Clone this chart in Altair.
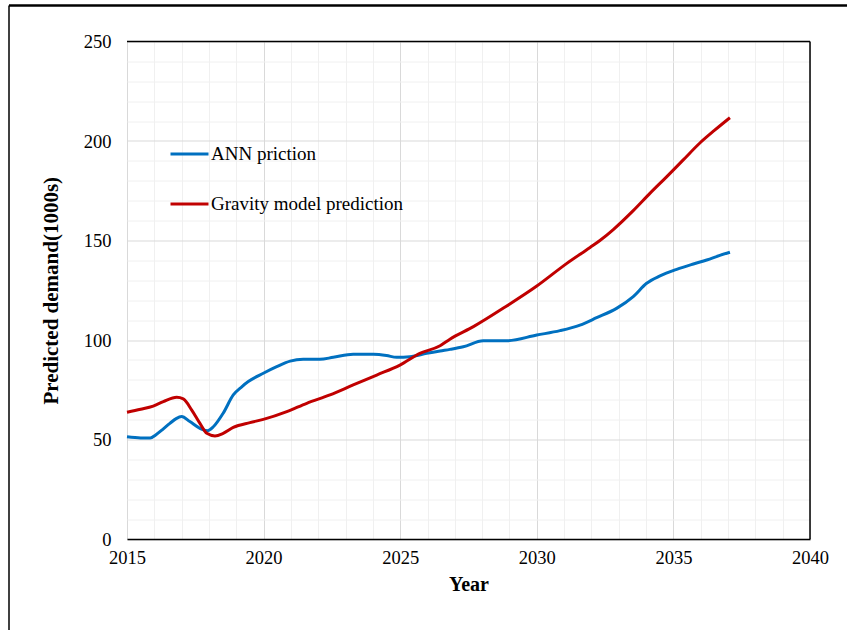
import altair as alt
import pandas as pd

ann_years = [2015.0, 2015.5, 2015.85, 2016.05, 2016.3, 2016.57, 2016.8, 2017.0, 2017.3, 2017.67,
             2017.94, 2018.16, 2018.52, 2018.89, 2019.2, 2019.44, 2019.99, 2020.48, 2020.97, 2021.45,
             2022.06, 2022.55, 2023.28, 2024.02, 2024.5, 2024.87, 2025.36, 2025.97, 2026.46, 2026.82,
             2027.31, 2028.04, 2028.9, 2030.0, 2030.85, 2031.58, 2032.19, 2032.92, 2033.53, 2034.02,
             2034.51, 2035.12, 2035.73, 2036.22, 2036.7, 2037.07]
ann_vals = [51.4, 50.8, 50.7, 52.3, 55.0, 58.1, 60.5, 61.5, 59.0, 55.6,
            54.4, 56.4, 63.2, 72.4, 76.5, 79.1, 83.3, 86.6, 89.4, 90.3,
            90.3, 91.3, 92.8, 92.8, 92.2, 91.3, 91.6, 93.3, 94.5, 95.3,
            96.6, 99.6, 99.6, 102.5, 104.7, 107.5, 111.2, 115.9, 121.8, 128.5,
            132.2, 135.5, 138.2, 140.2, 142.5, 144.1]

grav_years = [2015.0, 2015.5, 2015.96, 2016.33, 2016.82, 2017.06, 2017.37, 2017.67, 2017.92, 2018.22,
              2018.52, 2018.89, 2019.5, 2019.99, 2020.85, 2021.58, 2022.43, 2023.28, 2024.14, 2024.99,
              2025.72, 2026.46, 2026.82, 2027.68, 2028.9, 2030.0, 2031.1, 2031.95, 2032.31, 2032.8,
              2033.53, 2034.14, 2034.75, 2035.36, 2035.97, 2036.5, 2037.07]
grav_vals = [63.7, 65.2, 66.8, 69.0, 71.2, 70.4, 64.8, 58.1, 53.1, 51.8,
             53.1, 56.1, 58.5, 60.1, 64.0, 68.2, 72.4, 77.4, 82.4, 87.4,
             93.3, 97.1, 100.4, 106.7, 117.1, 127.1, 138.5, 146.5, 150.0, 155.5,
             165.0, 173.7, 182.0, 190.5, 199.0, 205.3, 211.7]

series_names = ["ANN priction", "Gravity model prediction"]
series_colors = ["#0070C0", "#C00000"]

x_ticks = list(range(2015, 2041))
y_ticks = list(range(0, 251, 10))

df = pd.concat([
    pd.DataFrame({"Year": ann_years, "Value": ann_vals, "Series": series_names[0]}),
    pd.DataFrame({"Year": grav_years, "Value": grav_vals, "Series": series_names[1]}),
])

W, H = 683, 497.5
FONT = "Liberation Serif"

lines = alt.Chart(df).mark_line(strokeWidth=3, interpolate="monotone").encode(
    x=alt.X("Year:Q", scale=alt.Scale(domain=[2015, 2040], nice=False, zero=False),
            axis=alt.Axis(values=x_ticks, format="d",
                          labelExpr="datum.value % 5 === 0 ? datum.label : ''",
                          gridColor=alt.condition("datum.value % 5 === 0", alt.value("#D9D9D9"), alt.value("#F0F0F0")),
                          ticks=False, domainColor="black", domainWidth=1.5,
                          labelFont=FONT, labelFontSize=18.5, labelColor="black",
                          labelFlush=False, labelOverlap=False,
                          labelPadding=9, titlePadding=8,
                          titleFont=FONT, titleFontSize=20, titleFontWeight="bold", titleColor="black",
                          title="Year")),
    y=alt.Y("Value:Q", scale=alt.Scale(domain=[0, 250], nice=False),
            axis=alt.Axis(values=y_ticks,
                          labelExpr="datum.value % 50 === 0 ? datum.label : ''",
                          gridColor=alt.condition("datum.value % 50 === 0", alt.value("#D9D9D9"), alt.value("#F0F0F0")),
                          ticks=False, domain=False, labelPadding=16,
                          labelFont=FONT, labelFontSize=18.5, labelColor="black",
                          labelFlush=False, labelOverlap=False,
                          titleFont=FONT, titleFontSize=21, titleFontWeight="bold", titleColor="black",
                          title="Predicted demand(1000s)",
                          titleX=-76, titleY=H / 2, titleAngle=-90,
                          titleBaseline="middle", titleAlign="center")),
    color=alt.Color("Series:N", scale=alt.Scale(domain=series_names, range=series_colors),
                    legend=alt.Legend(title=None, orient="none", legendX=42, legendY=92,
                                      symbolType="stroke", symbolSize=1444, symbolStrokeWidth=3,
                                      labelFont=FONT, labelFontSize=19, labelColor="black",
                                      labelOffset=1, rowPadding=19, labelLimit=400)),
)

one = alt.Data(values=[{}])
frame_top = alt.Chart(one).mark_rule(color="black", strokeWidth=1.5).encode(
    x=alt.value(0), x2=alt.value(W), y=alt.value(0))
frame_right = alt.Chart(one).mark_rule(color="black", strokeWidth=1.5).encode(
    x=alt.value(W), y=alt.value(0), y2=alt.value(H))
border_top = alt.Chart(one).mark_rule(color="black", strokeWidth=2.5).encode(
    x=alt.value(-118), x2=alt.value(760), y=alt.value(-36))
border_left = alt.Chart(one).mark_rule(color="black", strokeWidth=1.5).encode(
    x=alt.value(-118), y=alt.value(-36), y2=alt.value(620))

chart = alt.layer(lines, frame_top, frame_right, border_top, border_left).properties(
    width=W, height=H,
    autosize=alt.AutoSizeParams(type="none"),
    padding={"left": 127, "top": 41.5, "right": 37, "bottom": 91},
    background="white",
).configure_view(strokeWidth=0)

chart.save("out.html", embed_options={"renderer": "svg", "actions": False})
